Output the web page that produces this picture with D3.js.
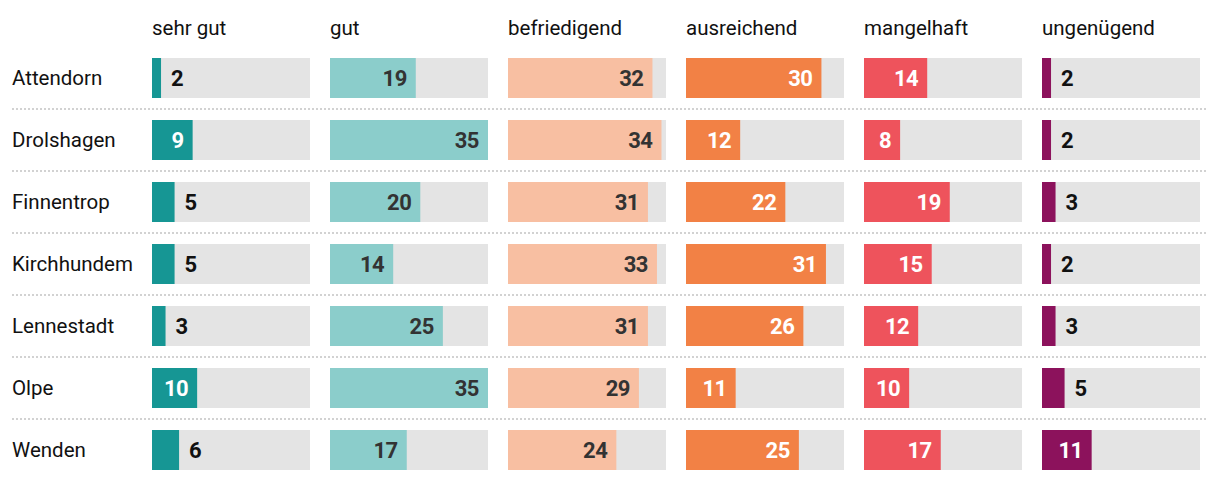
<!DOCTYPE html>
<html><head><meta charset="utf-8">
<script src="https://cdn.jsdelivr.net/npm/d3@7"></script>
<style>
html,body{margin:0;padding:0;background:#fff;}
svg{display:block;font-family:Roboto,"Noto Sans",sans-serif;}
</style></head>
<body><svg id="c" width="1220" height="482"></svg>
<script>
const grades = ["sehr gut","gut","befriedigend","ausreichend","mangelhaft","ungenügend"];
const towns = ["Attendorn","Drolshagen","Finnentrop","Kirchhundem","Lennestadt","Olpe","Wenden"];
const sehrGut     = [2, 9, 5, 5, 3, 10, 6];
const gut         = [19, 35, 20, 14, 25, 35, 17];
const befriedigend= [32, 34, 31, 33, 31, 29, 24];
const ausreichend = [30, 12, 22, 31, 26, 11, 25];
const mangelhaft  = [14, 8, 19, 15, 12, 10, 17];
const ungenuegend = [2, 2, 3, 2, 3, 5, 11];
const series = [sehrGut, gut, befriedigend, ausreichend, mangelhaft, ungenuegend];
const colors = ["#169694","#8bcdcb","#f8bfa2","#f28145","#ee535c","#8c125c"];
const insideText = ["#ffffff","#333333","#333333","#ffffff","#ffffff","#ffffff"];
const maxValue = 35;

const svg = d3.select("#c");
const x = d3.scaleBand().domain(grades).range([152,1200]).paddingInner(20/178).paddingOuter(0);
const y = d3.scaleBand().domain(towns).range([58,470]).paddingInner(22/62).paddingOuter(0);
const v = d3.scaleLinear().domain([0,maxValue]).range([0,x.bandwidth()]);

// headers
svg.append("g").selectAll("text").data(grades).join("text")
  .attr("x", d=>x(d)).attr("y", 35)
  .attr("font-size", 20.5).attr("fill","#111")
  .text(d=>d);

// row labels
svg.append("g").selectAll("text").data(towns).join("text")
  .attr("x", 12).attr("y", d=>y(d)+y.bandwidth()/2).attr("dy","0.36em")
  .attr("font-size", 20.5).attr("fill","#111")
  .text(d=>d);

// separators
svg.append("g").selectAll("line").data(towns.slice(0,-1)).join("line")
  .attr("x1",12).attr("x2",1208)
  .attr("y1", d=>y(d)+y.bandwidth()+ (y.step()-y.bandwidth())/2)
  .attr("y2", d=>y(d)+y.bandwidth()+ (y.step()-y.bandwidth())/2)
  .attr("stroke","#d2d2d2").attr("stroke-width",2).attr("stroke-dasharray","2,2");

const cells = [];
grades.forEach((g,gi)=>towns.forEach((t,ti)=>cells.push({g,gi,t,val:series[gi][ti]})));

const cg = svg.append("g");
cg.selectAll("rect.track").data(cells).join("rect").attr("class","track")
  .attr("x", d=>x(d.g)).attr("y", d=>y(d.t))
  .attr("width", x.bandwidth()).attr("height", y.bandwidth())
  .attr("fill","#e4e4e4");
cg.selectAll("rect.bar").data(cells).join("rect").attr("class","bar")
  .attr("x", d=>x(d.g)).attr("y", d=>y(d.t))
  .attr("width", d=>v(d.val)).attr("height", y.bandwidth())
  .attr("fill", d=>colors[d.gi]);
cg.selectAll("text.val").data(cells).join("text").attr("class","val")
  .each(function(d){
    const w = v(d.val);
    const inside = w >= 30;
    d3.select(this)
      .attr("x", inside ? x(d.g)+w-9 : x(d.g)+w+10)
      .attr("text-anchor", inside ? "end" : "start")
      .attr("fill", inside ? insideText[d.gi] : "#111");
  })
  .attr("y", d=>y(d.t)+y.bandwidth()/2).attr("dy","0.36em")
  .attr("font-size", 22).attr("font-weight",700).attr("letter-spacing","-0.5")
  .text(d=>d.val);
</script></body></html>
